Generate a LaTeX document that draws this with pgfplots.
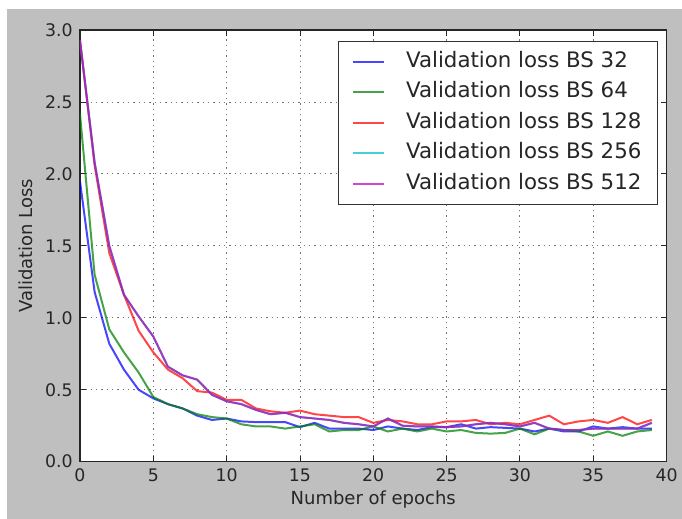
\documentclass[border=0pt]{standalone}
\usepackage{pgfplots}
\pgfplotsset{compat=1.18}
\usepackage{fontspec}
\setmainfont{DejaVu Sans}
\definecolor{figbg}{RGB}{191,191,191}
\definecolor{mb}{rgb}{0,0,1}
\definecolor{mg}{rgb}{0,0.5,0}
\definecolor{mr}{rgb}{1,0,0}
\definecolor{mc}{rgb}{0,0.75,0.75}
\definecolor{mm}{rgb}{0.75,0,0.75}

\pgfplotstableread{
e v
0 1.95
1 1.18
2 0.82
3 0.64
4 0.50
5 0.44
6 0.40
7 0.37
8 0.32
9 0.29
10 0.30
11 0.28
12 0.275
13 0.275
14 0.275
15 0.24
16 0.27
17 0.23
18 0.23
19 0.23
20 0.22
21 0.245
22 0.23
23 0.22
24 0.24
25 0.24
26 0.26
27 0.23
28 0.24
29 0.235
30 0.23
31 0.21
32 0.23
33 0.21
34 0.21
35 0.245
36 0.23
37 0.24
38 0.23
39 0.23
}\bsA

\pgfplotstableread{
e v
0 2.42
1 1.30
2 0.92
3 0.76
4 0.62
5 0.45
6 0.40
7 0.37
8 0.33
9 0.31
10 0.30
11 0.26
12 0.245
13 0.245
14 0.23
15 0.245
16 0.26
17 0.21
18 0.22
19 0.22
20 0.245
21 0.21
22 0.23
23 0.21
24 0.23
25 0.21
26 0.22
27 0.20
28 0.195
29 0.20
30 0.23
31 0.19
32 0.23
33 0.22
34 0.21
35 0.18
36 0.21
37 0.18
38 0.21
39 0.22
}\bsB

\pgfplotstableread{
e v
0 2.93
1 2.06
2 1.45
3 1.16
4 0.91
5 0.76
6 0.64
7 0.58
8 0.49
9 0.48
10 0.43
11 0.43
12 0.37
13 0.35
14 0.34
15 0.355
16 0.33
17 0.32
18 0.31
19 0.31
20 0.27
21 0.29
22 0.28
23 0.26
24 0.26
25 0.28
26 0.28
27 0.29
28 0.26
29 0.27
30 0.26
31 0.29
32 0.32
33 0.26
34 0.28
35 0.29
36 0.27
37 0.31
38 0.26
39 0.29
}\bsC

\pgfplotstableread{
e v
0 2.93
1 2.08
2 1.50
3 1.16
4 1.01
5 0.87
6 0.66
7 0.60
8 0.57
9 0.465
10 0.42
11 0.40
12 0.36
13 0.33
14 0.34
15 0.31
16 0.30
17 0.29
18 0.27
19 0.26
20 0.245
21 0.30
22 0.25
23 0.245
24 0.245
25 0.24
26 0.245
27 0.26
28 0.27
29 0.26
30 0.245
31 0.27
32 0.23
33 0.22
34 0.22
35 0.23
36 0.23
37 0.23
38 0.23
39 0.27
}\bsD

\begin{document}
\begin{tikzpicture}
\fill[white] (0pt,0pt) rectangle (511.5pt,389.25pt);
\fill[figbg] (5.25pt,0pt) rectangle (511.5pt,382.5pt);
\begin{axis}[
  at={(60pt,42.75pt)}, anchor=south west,
  scale only axis, width=440.25pt, height=324pt,
  xmin=0, xmax=40, ymin=0, ymax=3,
  xtick={0,5,10,15,20,25,30,35,40},
  ytick={0,0.5,1,1.5,2,2.5,3},
  yticklabel style={/pgf/number format/fixed, /pgf/number format/fixed zerofill, /pgf/number format/precision=1, xshift=-2pt},
  /pgf/number format/assume math mode=true,
  tick label style={font=\fontsize{13}{15}\selectfont, text=black!85},
  xticklabel style={yshift=-2pt},
  tick align=inside, tick pos=both,
  major tick length=4.5pt,
  tick style={black!85, line width=0.6pt},
  axis background/.style={fill=white},
  axis line style={black!85, line width=1pt},
  grid=major,
  major grid style={black!55, line width=0.6pt, dash pattern=on 1pt off 3pt},
  xlabel={Number of epochs},
  ylabel={Validation Loss},
  label style={font=\fontsize{13.5}{16}\selectfont, text=black!85},
  xlabel style={at={(axis description cs:0.5,-0.0995)}, anchor=base},
  ylabel style={at={(axis description cs:-0.092,0.5)}, anchor=center},
  legend cell align=left,
  legend image code/.code={\draw[#1] (0pt,0pt) -- (23pt,0pt);},
  legend style={at={(1,1)}, anchor=north east, xshift=-6.5pt, yshift=-8pt,
    draw=black!80, line width=0.8pt, fill=white,
    font=\fontsize{16}{19}\selectfont, text=black!85,
    inner xsep=10pt, inner ysep=4pt, column sep=14pt,
    nodes={inner xsep=2pt, inner ysep=3.7pt, text height=12pt, text depth=3.5pt}},
  every axis plot/.append style={line width=1.5pt, opacity=0.72},
]
\addplot[mb] table[x=e,y=v] {\bsA};
\addlegendentry{Validation loss BS 32}
\addplot[mg] table[x=e,y=v] {\bsB};
\addlegendentry{Validation loss BS 64}
\addplot[mr] table[x=e,y=v] {\bsC};
\addlegendentry{Validation loss BS 128}
\addplot[mc] table[x=e,y=v] {\bsD};
\addlegendentry{Validation loss BS 256}
\addplot[mm] table[x=e,y=v] {\bsD};
\addlegendentry{Validation loss BS 512}
\end{axis}
\end{tikzpicture}
\end{document}
